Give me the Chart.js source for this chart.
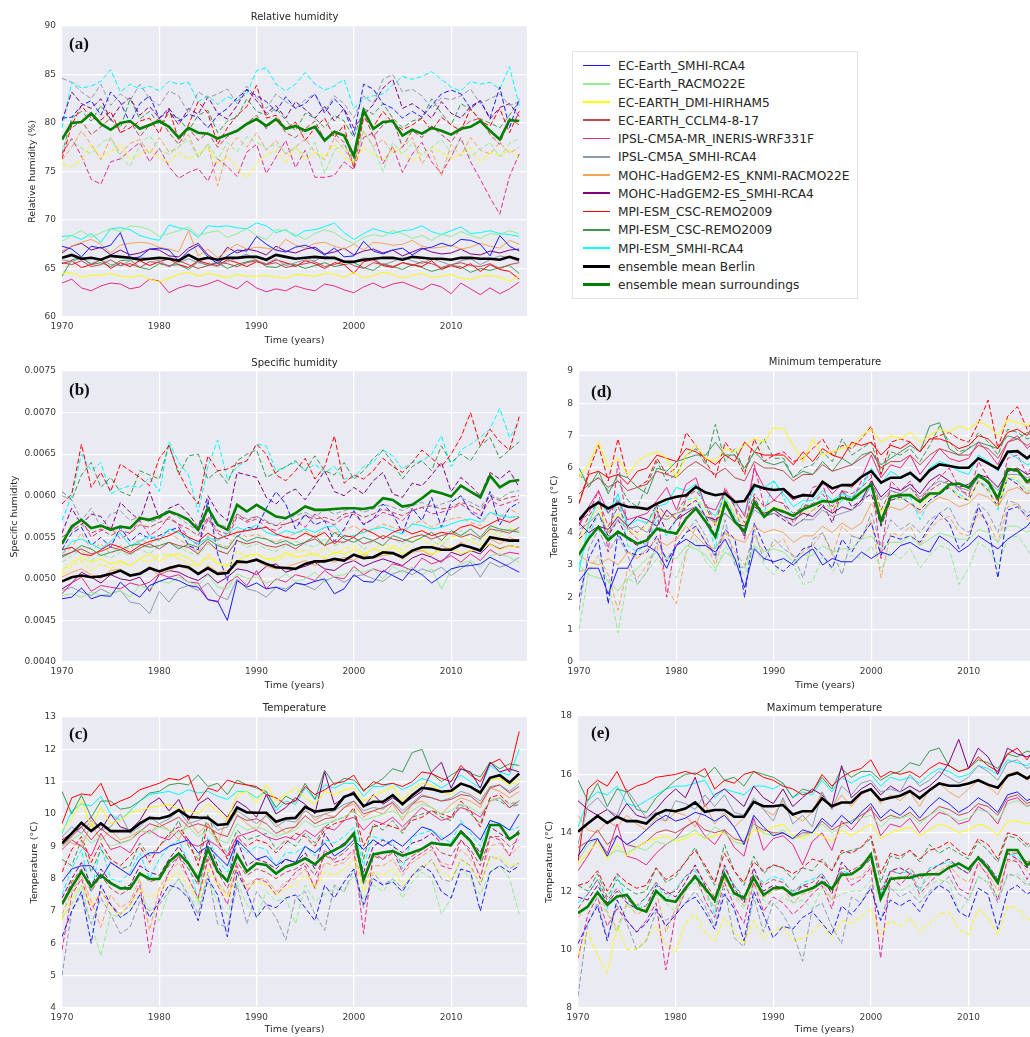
<!DOCTYPE html>
<html>
<head>
<meta charset="utf-8">
<script src="https://cdn.jsdelivr.net/npm/chart.js@4.4.1/dist/chart.umd.min.js"></script>
<style>
  html, body { margin: 0; padding: 0; background: #fff; overflow: hidden; }
  body { width: 1030px; height: 1037px; position: relative; font-family: "DejaVu Sans", sans-serif; }
  canvas { position: absolute; }
  #legend { position: absolute; left: 572px; top: 51px; width: 286px; height: 248px;
            border: 1px solid #e2e2e2; box-sizing: border-box; background: #fff; }
  #legend .row { position: absolute; left: 10px; height: 18px; line-height: 18px;
                 font-size: 12.2px; color: #262626; white-space: nowrap; }
  #legend .row i { display: inline-block; width: 27px; vertical-align: middle;
                   margin-right: 8px; position: relative; top: -1px; }
</style>
</head>
<body>
<canvas id="rh" width="545" height="352" style="left:0;top:0"></canvas>
<canvas id="q" width="545" height="352" style="left:0;top:345px"></canvas>
<canvas id="t" width="545" height="342" style="left:0;top:695px"></canvas>
<canvas id="tn" width="560" height="352" style="left:530px;top:345px"></canvas>
<canvas id="tx" width="560" height="342" style="left:530px;top:695px"></canvas>
<div id="legend"></div>

<script>
const years = [1970,1971,1972,1973,1974,1975,1976,1977,1978,1979,1980,1981,1982,1983,1984,1985,
  1986,1987,1988,1989,1990,1991,1992,1993,1994,1995,1996,1997,1998,1999,2000,2001,2002,2003,
  2004,2005,2006,2007,2008,2009,2010,2011,2012,2013,2014,2015,2016,2017];

const models = ['EC-Earth_SMHI-RCA4', 'EC-Earth_RACMO22E', 'EC-EARTH_DMI-HIRHAM5', 'EC-EARTH_CCLM4-8-17',
  'IPSL-CM5A-MR_INERIS-WRF331F', 'IPSL-CM5A_SMHI-RCA4', 'MOHC-HadGEM2-ES_KNMI-RACMO22E',
  'MOHC-HadGEM2-ES_SMHI-RCA4', 'MPI-ESM_CSC-REMO2009', 'MPI-ESM_CSC-REMO2009', 'MPI-ESM_SMHI-RCA4'];
const modelColors = ['#1a1aff', '#90ee90', '#ffff00', '#bc4b4b', '#e8288a', '#8c9cae', '#f6a35a',
  '#800080', '#ff0000', '#3a9a50', '#00ffff'];

// relative humidity (%), one row per model in the order above
const rhCityMean = [66.1,66.4,66.0,66.1,65.9,66.3,66.2,66.1,65.9,66.0,66.1,66.0,65.8,66.4,65.9,66.1,65.9,66.1,66.1,66.2,66.2,65.9,66.4,66.2,66.0,66.1,66.2,66.1,66.1,65.7,65.7,65.9,66.0,66.1,66.1,65.9,66.2,66.1,66.0,66.0,65.9,66.1,66.1,66.0,66.0,65.9,66.2,65.9];
const rhRuralMean = [78.3,80.0,80.1,81.0,79.9,79.3,80.0,80.2,79.4,79.8,80.2,79.6,78.5,79.5,79.0,78.9,78.4,78.8,79.2,79.9,80.4,79.7,80.4,79.4,79.7,79.2,79.6,78.2,79.1,78.7,76.6,81.3,79.4,80.1,80.2,78.7,79.3,78.9,79.5,79.2,78.8,79.4,79.6,80.2,79.2,78.3,80.3,80.2];
const rhCity = [
  [67.3,67.0,66.2,67.3,67.1,67.4,68.7,66.0,66.2,67.0,67.1,66.9,65.8,66.8,67.4,66.2,65.5,66.3,66.9,66.8,68.3,67.5,66.9,66.7,67.2,67.4,67.0,66.4,67.1,66.2,66.3,67.8,66.8,66.5,66.9,67.1,66.4,67.0,67.2,67.6,67.3,68.0,67.9,67.5,66.3,68.4,67.3,66.8],
  [67.8,68.4,68.9,68.2,68.7,69.1,68.8,69.4,69.3,69.0,68.3,68.6,68.9,69.3,68.4,68.7,68.9,68.2,68.6,69.1,68.4,68.0,69.0,68.9,68.5,68.0,68.6,69.0,68.7,68.0,67.6,68.2,68.5,68.3,68.9,68.6,68.1,68.4,67.9,68.5,68.3,68.8,68.4,68.1,68.6,68.5,68.9,68.6],
  [64.5,64.6,64.1,64.3,64.3,64.5,64.2,64.1,64.3,63.9,63.6,64.0,64.4,64.6,64.2,64.5,64.3,64.0,64.4,64.2,64.2,64.3,64.1,64.0,64.4,64.3,64.2,64.5,64.4,64.1,64.6,64.0,64.3,64.6,64.4,64.0,64.3,64.5,64.1,64.2,64.4,64.0,63.9,64.2,64.3,64.1,63.7,64.2],
  [65.6,65.4,65.8,65.2,65.4,65.9,65.3,65.5,65.1,65.7,65.6,65.2,65.8,65.4,65.0,65.3,65.7,65.5,65.2,65.6,65.8,65.4,65.6,65.1,65.3,65.5,65.7,65.2,65.4,65.8,65.3,65.0,65.6,65.4,65.2,65.6,65.3,65.7,65.5,65.1,65.4,65.6,65.3,65.2,65.5,65.0,65.4,65.6],
  [63.5,63.9,63.0,62.7,63.2,63.5,63.4,62.9,63.1,63.9,63.7,62.5,63.0,63.3,63.1,63.4,63.8,63.3,62.9,63.7,63.0,62.6,62.9,62.7,63.2,62.9,62.7,63.4,63.2,62.8,62.5,63.1,63.5,63.0,63.4,63.6,63.2,62.8,63.4,63.1,62.4,63.5,62.9,62.3,63.0,62.4,62.9,63.6],
  [65.9,65.7,66.1,65.5,65.9,65.4,65.3,65.8,66.2,66.0,65.8,65.2,65.6,66.0,65.6,65.4,65.2,65.7,66.1,66.5,65.8,65.5,66.0,65.3,65.6,65.9,65.8,66.3,66.0,65.6,65.7,66.1,66.0,65.4,65.7,66.2,65.8,65.5,66.0,65.7,65.3,65.8,66.0,65.4,65.9,66.3,66.1,65.7],
  [66.8,67.3,67.7,68.0,67.5,66.6,67.4,67.6,67.7,67.6,67.2,67.0,66.7,68.9,66.3,67.0,66.1,66.9,67.5,67.0,67.2,67.1,66.9,68.0,67.4,67.1,67.6,67.7,67.3,67.0,67.5,66.9,67.7,67.6,67.4,67.5,67.9,67.3,67.1,67.2,67.4,67.0,67.2,67.6,67.3,67.1,67.9,67.5],
  [66.6,67.3,67.6,66.9,67.2,66.4,66.9,66.4,66.6,67.0,66.9,66.3,66.2,67.1,67.6,66.4,65.8,67.2,66.6,67.0,66.8,66.4,67.3,66.8,66.6,67.0,67.2,66.5,66.7,67.1,66.4,66.8,67.0,66.6,66.9,66.3,66.7,67.1,66.7,66.5,66.6,67.0,66.5,66.4,66.8,66.6,66.9,67.0],
  [65.5,65.8,65.1,65.4,65.9,65.0,65.6,65.2,65.8,65.3,65.7,66.0,65.4,65.1,65.8,65.5,65.3,65.9,65.6,65.2,65.7,65.4,65.9,65.6,65.2,65.8,65.5,65.0,65.6,65.4,64.5,65.7,65.9,65.3,65.1,65.6,65.4,65.2,65.8,64.9,65.3,65.0,65.5,64.7,65.4,64.9,64.7,63.9],
  [64.2,65.9,66.1,65.4,65.6,65.2,65.8,65.9,65.1,64.9,65.5,65.3,65.4,64.9,65.7,65.3,65.6,65.0,65.4,65.7,65.9,65.2,65.1,65.5,65.4,65.0,65.3,65.6,65.2,65.4,65.6,65.1,64.8,65.5,65.2,64.9,65.4,65.1,64.7,65.0,65.3,65.2,64.6,65.0,64.8,65.1,65.3,64.5],
  [68.3,68.4,68.0,68.6,67.7,69.1,69.2,69.0,68.4,68.1,67.9,69.5,69.2,69.0,68.2,69.4,69.3,69.4,69.2,69.1,69.7,69.4,68.7,69.0,68.3,68.9,69.0,69.3,69.7,68.7,68.0,68.6,69.1,68.8,68.6,68.9,69.0,69.4,68.8,68.5,68.9,69.3,68.6,68.7,68.9,68.6,68.5,68.3]
];
const rhRural = [
  [80.5,80.6,81.8,82.3,80.8,83.2,82.1,80.0,82.0,82.8,80.5,81.5,80.2,80.9,80.6,79.5,80.8,81.5,82.6,83.4,82.8,82.2,81.2,82.7,81.5,82.0,83.0,81.0,82.5,81.4,78.8,84.0,83.5,82.0,81.5,80.5,81.2,80.6,81.8,83.0,83.4,83.0,81.5,82.3,80.5,83.7,79.5,82.5],
  [77.5,78.2,77.4,76.8,77.9,78.5,76.5,75.5,77.8,78.7,77.2,76.8,77.5,78.3,76.4,77.9,76.2,78.0,77.0,78.6,78.0,77.4,77.8,76.9,77.5,76.5,78.0,74.8,77.2,77.8,76.0,79.2,77.5,75.0,78.0,76.8,77.9,76.7,77.5,78.3,77.0,78.2,76.5,77.3,78.0,76.5,77.9,78.4],
  [75.8,75.5,76.2,77.8,76.5,77.0,77.8,76.2,76.8,77.3,76.4,75.9,77.0,76.2,76.9,77.5,75.8,76.5,75.4,74.3,75.8,76.7,77.1,76.0,77.5,76.2,77.0,76.5,77.8,76.4,75.9,77.5,76.8,76.2,77.3,76.9,76.1,76.7,77.5,77.0,76.3,76.8,77.4,76.0,76.9,76.7,77.2,76.4],
  [78.5,79.5,80.2,78.8,79.6,80.5,79.0,80.2,78.6,79.8,80.5,79.0,77.8,79.5,78.2,79.0,77.5,78.6,79.2,80.0,80.8,79.4,80.5,79.0,78.5,79.4,80.2,78.3,78.9,78.0,75.5,81.0,78.6,79.8,80.4,77.5,79.2,78.5,79.7,78.8,78.0,79.5,80.2,80.5,78.8,77.8,80.5,79.8],
  [76.8,78.4,76.6,74.2,73.7,76.0,76.3,77.2,78.0,76.0,77.4,75.5,74.3,74.9,75.3,74.0,76.3,75.5,74.5,77.0,77.8,74.8,76.5,78.2,75.4,77.2,74.4,74.4,74.6,76.0,75.2,78.5,79.0,75.8,77.6,74.9,76.8,78.0,76.0,74.8,76.5,78.5,76.0,74.2,72.3,70.6,74.5,76.8],
  [84.6,84.2,83.2,82.5,84.0,81.8,83.0,82.3,84.0,82.5,81.8,83.3,82.8,81.0,83.2,82.6,83.0,83.5,82.0,83.8,82.6,81.5,83.0,82.2,81.5,82.4,83.0,81.2,82.8,82.0,80.5,82.8,82.0,84.5,85.0,83.2,83.5,82.8,81.5,82.6,82.4,82.8,83.5,82.0,82.5,83.0,81.8,82.2],
  [76.2,77.5,79.2,77.8,76.2,78.5,76.8,77.9,78.3,76.8,78.5,77.0,77.5,78.8,76.5,77.8,73.5,77.2,78.5,77.5,79.0,77.2,78.2,76.8,77.5,78.4,77.0,76.2,78.5,77.3,75.8,79.2,77.6,78.3,76.9,77.5,78.5,75.8,77.2,74.5,77.8,76.6,78.5,77.2,76.8,78.0,76.9,77.5],
  [80.2,83.2,82.0,81.5,82.5,80.3,81.8,82.6,80.8,81.7,80.5,81.2,79.8,81.5,80.9,82.7,81.0,80.4,81.8,83.5,82.3,81.0,81.8,80.5,82.2,81.4,80.5,81.7,80.2,81.5,79.5,80.8,81.9,83.6,84.5,81.5,82.0,81.3,80.5,82.2,81.0,80.5,81.7,82.3,80.4,81.6,82.0,80.7],
  [76.3,79.8,81.8,80.5,80.3,81.2,79.0,79.5,80.2,80.5,78.9,81.5,78.2,79.8,82.2,81.0,77.8,79.5,80.8,81.7,83.9,80.5,80.8,79.4,80.1,78.2,79.5,80.5,78.5,79.8,75.3,80.5,79.6,81.2,80.0,79.3,79.8,80.5,79.2,80.6,79.8,79.2,81.5,80.2,79.7,81.5,79.0,81.2],
  [76.8,80.5,81.2,80.2,81.8,80.3,79.5,82.5,80.4,81.2,79.8,81.0,80.5,79.2,80.8,81.3,79.0,80.2,80.6,82.5,81.2,80.8,81.5,80.3,79.2,81.0,80.5,79.5,80.8,80.2,78.5,81.5,80.9,82.0,80.5,79.5,80.2,80.5,82.5,81.0,79.8,82.0,81.4,80.4,80.0,79.5,80.8,82.3],
  [79.5,84.2,83.6,83.8,84.3,85.5,83.2,84.0,83.5,83.8,83.3,84.3,84.0,84.2,82.2,82.8,81.9,82.7,82.3,83.0,85.4,85.7,84.0,83.3,84.0,85.2,84.0,83.4,83.8,84.5,81.5,82.5,82.8,83.0,83.9,84.8,84.5,84.8,85.3,84.5,83.7,83.3,84.3,84.0,84.2,83.5,85.8,81.8]
];

// specific humidity, stored in g/kg (axis labels show kg/kg)
const qCityMean = [4.97,5.02,5.04,5.02,5.03,5.06,5.10,5.04,5.06,5.13,5.09,5.13,5.16,5.14,5.06,5.13,5.06,5.07,5.21,5.20,5.23,5.18,5.14,5.13,5.12,5.18,5.21,5.21,5.24,5.22,5.29,5.25,5.26,5.32,5.31,5.26,5.34,5.38,5.38,5.35,5.35,5.41,5.38,5.34,5.50,5.48,5.46,5.46];
const qRuralMean = [5.42,5.63,5.71,5.61,5.64,5.59,5.63,5.61,5.73,5.71,5.75,5.81,5.77,5.71,5.59,5.85,5.65,5.59,5.89,5.81,5.89,5.82,5.75,5.73,5.79,5.87,5.83,5.83,5.84,5.85,5.85,5.84,5.86,5.97,5.95,5.87,5.89,5.97,6.06,6.03,5.99,6.12,6.05,5.98,6.24,6.10,6.17,6.19];
const qCity = [
  [4.76,4.78,4.89,4.76,4.80,4.79,4.96,4.85,4.78,4.92,4.97,5.01,4.98,4.92,4.90,4.75,4.73,4.50,4.98,4.90,4.95,4.88,4.90,4.85,4.95,4.93,4.97,5.00,4.82,4.88,5.05,4.97,4.96,5.10,5.04,4.98,5.12,5.05,4.95,5.03,5.12,5.15,5.16,5.18,5.26,5.20,5.14,5.08],
  [4.80,4.82,4.78,4.84,4.80,4.82,4.86,4.78,4.92,4.88,4.97,4.95,5.02,4.96,4.92,5.05,4.90,4.88,5.06,5.00,5.02,4.95,4.98,5.06,4.97,5.00,5.08,4.96,5.03,5.05,5.10,5.08,5.12,5.00,5.15,5.08,5.14,5.05,5.12,4.88,5.10,5.18,5.22,5.14,5.28,5.30,5.26,5.20],
  [5.10,5.20,5.26,5.20,5.24,5.18,5.22,5.16,5.24,5.30,5.21,5.28,5.30,5.25,5.16,5.26,5.18,5.15,5.22,5.28,5.30,5.24,5.25,5.32,5.26,5.28,5.30,5.25,5.32,5.30,5.35,5.28,5.36,5.33,5.38,5.30,5.35,5.36,5.30,5.34,5.38,5.30,5.34,5.36,5.42,5.35,5.40,5.38],
  [5.28,5.32,5.36,5.30,5.33,5.38,5.35,5.30,5.37,5.42,5.36,5.44,5.40,5.38,5.30,5.45,5.34,5.30,5.46,5.42,5.45,5.40,5.38,5.42,5.36,5.44,5.48,5.40,5.45,5.44,5.50,5.42,5.46,5.52,5.48,5.45,5.50,5.53,5.48,5.52,5.55,5.50,5.54,5.48,5.60,5.58,5.55,5.62],
  [4.82,4.95,5.02,4.85,4.92,4.90,4.88,4.95,4.92,4.96,5.06,5.02,5.05,4.96,4.95,4.75,4.72,4.95,5.03,4.92,5.10,4.88,5.00,4.96,5.05,5.02,4.98,5.10,5.02,5.00,5.15,5.05,5.12,5.08,5.18,5.15,5.10,5.25,5.18,5.22,5.28,5.20,5.30,5.22,5.35,5.28,5.32,5.30],
  [4.86,4.90,4.84,4.80,4.88,4.82,4.86,4.72,4.70,4.58,4.85,4.72,4.88,4.92,4.86,4.95,4.80,4.75,5.00,4.88,4.85,4.78,4.90,4.88,4.95,4.92,4.87,4.98,5.02,4.96,5.03,5.05,5.00,4.97,5.06,5.10,5.05,5.12,5.08,5.14,5.04,5.12,5.20,5.02,5.20,5.14,5.18,5.26],
  [5.02,5.08,5.12,5.05,5.00,5.10,5.12,5.04,5.08,5.12,5.05,5.10,5.15,5.12,5.06,5.16,5.08,5.10,5.18,5.20,5.22,5.15,5.12,5.14,5.18,5.22,5.16,5.24,5.20,5.26,5.22,5.30,5.25,5.28,5.30,5.24,5.32,5.34,5.28,5.40,5.35,5.44,5.38,5.34,5.48,5.42,5.50,5.45],
  [4.88,4.95,5.08,5.02,4.95,5.05,5.00,4.98,5.02,4.85,5.05,5.10,5.08,5.02,4.98,5.06,4.95,5.02,5.12,5.10,5.05,5.15,5.18,5.08,5.12,5.15,5.20,5.12,5.10,5.18,5.22,5.15,5.20,5.24,5.20,5.16,5.25,5.30,5.26,5.20,5.32,5.28,5.34,5.30,5.42,5.36,5.40,5.38],
  [5.35,5.38,5.30,5.28,5.35,5.42,5.38,5.32,5.40,5.45,5.48,5.52,5.58,5.50,5.45,5.55,5.48,5.52,5.56,5.58,5.60,5.62,5.54,5.50,5.48,5.55,5.50,5.56,5.42,5.52,5.50,5.60,5.55,5.48,5.56,5.60,5.54,5.58,5.52,5.56,5.54,5.62,5.65,5.60,5.66,5.72,5.68,5.74],
  [5.26,5.32,5.40,5.36,5.28,5.32,5.35,5.40,5.42,5.38,5.40,5.44,5.36,5.42,5.38,5.48,5.40,5.36,5.52,5.45,5.50,5.48,5.42,5.46,5.40,5.44,5.52,5.40,5.56,5.48,5.44,5.50,5.46,5.40,5.52,5.48,5.44,5.50,5.56,5.46,5.58,5.52,5.60,5.50,5.64,5.60,5.58,5.56],
  [5.30,5.45,5.48,5.42,5.36,5.45,5.55,5.40,5.45,5.52,5.46,5.60,5.55,5.48,5.42,5.50,5.46,5.55,5.62,5.58,5.65,5.56,5.52,5.58,5.55,5.60,5.56,5.62,5.64,5.50,5.52,5.56,5.60,5.62,5.58,5.54,5.66,5.64,5.60,5.62,5.66,5.70,5.72,5.68,5.80,5.76,5.74,5.75]
];
const qRural = [
  [5.35,5.55,5.62,5.40,5.50,5.38,5.62,5.45,5.55,5.48,5.52,5.58,5.62,5.40,5.35,5.95,5.30,4.98,5.50,5.62,5.60,5.85,6.05,5.90,5.60,5.78,5.65,5.70,5.45,5.60,5.82,5.65,5.72,5.90,5.78,5.55,5.85,5.70,5.98,5.62,5.92,6.00,5.80,5.72,6.05,5.65,5.85,5.92],
  [5.20,5.28,5.35,5.22,5.30,5.25,5.32,5.28,5.36,5.30,5.40,5.44,5.38,5.32,5.28,5.42,5.35,5.30,5.46,5.38,5.42,5.36,5.33,5.40,5.45,5.42,5.38,5.48,5.40,5.44,5.50,5.35,5.46,5.52,5.48,5.42,5.50,5.54,5.46,5.40,5.52,5.58,5.50,5.46,5.62,5.55,5.60,5.58],
  [5.05,5.15,5.22,5.10,5.18,5.12,5.20,5.16,5.24,5.20,5.28,5.30,5.24,5.18,5.15,5.30,5.20,5.16,5.34,5.26,5.30,5.24,5.22,5.28,5.32,5.35,5.28,5.38,5.30,5.36,5.40,5.30,5.36,5.42,5.40,5.35,5.45,5.48,5.40,5.44,5.50,5.52,5.45,5.40,5.58,5.50,5.62,5.55],
  [5.50,5.58,5.66,5.55,5.60,5.52,5.58,5.55,5.65,5.62,5.68,5.72,5.66,5.60,5.52,5.75,5.58,5.54,5.78,5.70,5.75,5.68,5.64,5.66,5.70,5.76,5.72,5.74,5.70,5.78,5.80,5.74,5.78,5.84,5.80,5.76,5.82,5.86,5.88,5.84,5.86,5.92,5.88,5.82,6.00,5.94,5.98,6.00],
  [5.45,5.60,5.72,5.50,5.58,5.62,5.48,5.55,5.70,5.52,5.60,5.75,5.65,5.50,5.40,5.72,5.55,5.48,5.75,5.68,5.72,5.62,5.58,5.66,5.70,5.62,5.78,5.70,5.65,5.74,5.78,5.66,5.72,5.80,5.76,5.70,5.82,5.86,5.78,5.80,5.84,5.90,5.82,5.76,5.95,5.88,5.92,5.96],
  [6.00,5.95,5.70,5.85,5.62,5.78,5.82,5.70,5.75,5.68,5.72,5.80,5.74,5.65,5.58,5.70,5.66,5.62,5.78,5.72,5.75,5.70,5.64,5.72,5.76,5.80,5.74,5.84,5.78,5.82,5.86,5.80,5.84,5.90,5.86,5.82,5.88,5.92,5.86,5.90,5.94,5.98,5.92,5.86,6.02,5.96,6.04,6.06],
  [5.30,5.38,5.55,5.35,5.42,5.30,5.40,5.36,5.48,5.42,5.50,5.55,5.48,5.40,5.32,5.52,5.42,5.38,5.58,5.50,5.54,5.48,5.44,5.50,5.55,5.58,5.50,5.62,5.55,5.58,5.64,5.56,5.60,5.66,5.62,5.58,5.66,5.70,5.62,5.68,5.72,5.74,5.68,5.64,5.80,5.74,5.84,5.78],
  [5.55,5.85,5.65,5.78,5.75,5.58,5.92,5.80,5.70,6.05,5.72,5.85,5.90,5.78,5.62,6.00,5.80,5.70,6.28,6.25,6.22,5.98,5.90,6.02,6.08,5.95,6.12,6.30,6.05,6.00,6.10,6.02,6.18,6.28,6.02,5.98,6.15,6.12,6.25,6.40,6.05,6.22,6.12,6.00,6.28,6.20,6.30,6.10],
  [5.90,6.02,6.62,6.10,6.28,6.05,6.38,6.30,6.22,6.12,6.45,6.60,6.28,6.05,5.90,6.48,6.30,6.32,6.38,6.42,6.62,6.50,6.25,6.18,6.30,6.45,6.20,6.35,6.72,6.15,6.25,6.20,6.30,6.45,6.35,6.28,6.40,6.55,6.45,6.35,6.50,6.70,7.00,6.60,6.80,6.65,6.55,6.95],
  [6.05,5.95,6.25,6.40,6.10,6.22,6.05,6.00,6.30,6.25,6.20,6.62,6.25,6.48,6.50,6.20,6.30,6.15,6.42,6.50,6.55,6.22,6.28,6.35,6.42,6.30,6.48,6.30,6.25,6.40,6.20,6.30,6.45,6.55,6.40,6.20,6.35,6.42,6.30,6.60,6.40,6.50,6.42,6.60,6.70,6.45,6.55,6.65],
  [5.70,6.00,6.50,6.30,6.40,6.02,6.08,6.12,6.10,6.22,6.05,6.65,6.40,6.25,5.80,6.35,6.67,6.20,6.35,6.42,6.62,6.60,6.30,6.35,6.40,6.30,6.38,6.28,6.35,6.20,6.22,6.35,6.40,6.55,6.48,6.32,6.40,6.42,6.50,6.72,6.35,6.55,6.62,6.70,6.80,7.05,6.70,6.88]
];

// mean temperature (°C)
const tCityMean = [9.09,9.40,9.73,9.47,9.71,9.47,9.47,9.47,9.71,9.88,9.86,9.94,10.12,9.91,9.89,9.88,9.66,9.69,10.20,10.05,10.04,10.04,9.76,9.86,9.88,10.22,10.07,10.12,10.15,10.53,10.63,10.24,10.38,10.38,10.58,10.30,10.58,10.81,10.77,10.69,10.72,10.94,10.84,10.66,11.12,11.20,10.97,11.25];
const tRuralMean = [7.21,7.75,8.22,7.75,8.11,7.86,7.70,7.70,8.16,7.99,7.99,8.52,8.78,8.47,7.99,8.92,8.22,7.93,8.73,8.22,8.47,8.42,8.16,8.37,8.47,8.63,8.44,8.73,8.88,9.04,9.40,7.96,8.75,8.81,8.85,8.71,8.81,8.92,9.11,9.06,9.04,9.45,9.16,8.63,9.66,9.66,9.22,9.43];
const tCity = [
  [7.9,8.3,8.4,8.4,8.0,8.5,8.3,8.1,8.6,8.8,8.8,9.0,9.1,9.2,8.8,9.0,8.7,8.4,9.2,8.9,8.6,8.7,8.4,8.6,8.5,9.0,8.8,9.1,8.7,8.9,9.2,8.9,9.2,9.0,9.2,9.0,9.3,9.6,9.5,9.2,9.4,9.7,9.5,9.2,9.8,9.7,9.5,10.0],
  [9.0,9.2,9.4,9.1,9.3,9.0,9.1,9.2,9.5,9.4,9.6,9.5,9.4,9.6,9.3,9.5,9.2,9.1,9.7,9.5,9.6,9.5,9.3,9.4,9.5,9.8,9.6,9.7,9.8,9.9,10.1,9.8,9.9,10.0,10.1,9.9,10.1,10.3,10.2,10.0,10.1,10.3,10.2,10.0,10.4,10.5,10.3,10.4],
  [9.5,9.85,10.4,9.6,10.2,9.7,9.8,10.05,10.1,10.2,10.25,10.3,10.15,10.1,10.0,10.3,10.1,9.8,10.6,10.7,10.35,10.9,10.4,10.6,10.8,10.5,10.3,10.7,10.6,10.75,10.8,10.4,10.55,10.7,10.85,10.4,10.75,10.95,10.9,10.7,10.6,10.95,10.85,10.6,11.05,11.1,10.9,11.05],
  [9.0,9.3,9.6,9.2,9.55,9.3,9.1,9.2,9.45,9.7,9.6,9.75,9.9,9.6,9.7,9.6,9.4,9.3,9.95,9.8,9.85,9.7,9.4,9.55,9.6,9.95,9.7,9.85,9.9,10.2,10.4,10.0,10.1,10.2,10.35,10.0,10.3,10.55,10.5,10.4,10.45,10.6,10.55,10.3,10.8,10.9,10.65,10.85],
  [8.9,9.2,9.0,8.7,9.4,8.9,9.0,8.8,9.3,9.5,9.3,9.2,9.5,9.1,9.0,9.2,9.0,8.7,9.3,9.4,9.5,9.3,9.2,9.3,9.2,9.5,9.3,9.6,9.5,9.8,9.9,9.5,9.8,9.7,9.9,9.6,9.9,10.2,10.0,9.8,9.9,10.2,10.1,9.9,10.4,10.5,10.2,10.4],
  [9.3,9.6,9.4,9.8,9.5,9.6,10.0,9.4,9.6,9.9,9.7,9.85,10.1,9.7,9.8,9.9,9.5,9.6,10.1,9.9,9.7,9.95,9.6,9.8,9.75,10.1,9.9,10.0,10.1,10.3,10.4,10.1,10.2,10.15,10.4,10.1,10.35,10.6,10.5,10.4,10.5,10.7,10.6,10.4,10.85,10.9,10.7,10.95],
  [9.3,9.1,9.0,9.7,9.2,9.5,9.2,9.3,9.5,9.4,9.7,9.5,9.2,9.8,9.4,9.7,9.1,9.9,10.0,9.7,9.5,10.0,9.7,9.4,9.6,10.2,9.8,10.0,9.9,10.2,10.3,9.9,10.1,10.0,10.3,9.8,10.3,10.4,10.2,10.0,10.3,10.5,10.4,10.2,10.8,10.7,10.5,10.7],
  [9.2,9.4,9.6,9.9,9.5,10.0,9.6,9.5,9.8,10.3,10.5,10.1,10.45,9.8,10.3,10.5,10.2,9.9,10.4,10.2,9.9,10.6,10.0,10.2,10.5,10.3,10.0,11.3,10.3,10.5,10.7,10.2,10.6,10.3,10.5,10.3,10.5,10.7,11.3,11.6,10.8,11.4,11.3,10.8,11.6,11.3,11.4,11.3],
  [9.7,10.5,10.62,10.58,10.95,10.25,10.4,10.52,10.75,10.85,10.95,11.1,11.05,11.2,10.4,10.8,10.7,11.05,10.95,10.9,10.85,10.6,10.5,10.3,10.4,10.85,10.6,10.75,10.95,11.0,11.2,10.7,11.0,10.9,10.95,10.85,11.0,11.3,11.25,11.1,11.0,11.5,11.2,11.0,11.55,11.7,11.3,12.55],
  [10.7,10.0,10.58,9.9,10.4,10.4,10.15,10.2,10.4,10.65,10.7,10.9,10.95,10.9,11.2,10.85,10.95,10.6,11.05,10.9,10.8,10.7,10.2,10.55,10.4,10.95,10.45,11.35,10.9,11.1,11.05,10.75,10.9,11.1,11.4,11.3,11.9,12.0,11.25,11.0,11.2,11.4,11.25,11.15,11.6,11.4,11.55,11.5],
  [9.4,10.1,10.3,10.25,10.55,10.0,9.8,10.1,10.4,10.6,10.65,10.7,10.6,10.75,10.65,10.7,10.55,10.45,10.7,10.7,10.5,10.7,10.1,10.4,10.3,10.8,10.45,10.9,10.8,10.95,10.95,10.55,10.85,10.85,10.95,10.75,10.9,11.1,11.0,10.8,11.0,11.2,11.0,10.8,11.5,11.3,11.2,12.0]
];
const tRural = [
  [6.2,7.0,7.6,6.0,7.8,7.2,6.8,7.0,7.5,6.8,7.3,7.8,7.7,7.4,6.7,8.0,7.5,6.2,8.2,7.6,6.8,7.2,7.1,7.4,7.5,7.1,6.7,7.8,7.4,7.9,8.3,7.2,8.0,7.8,7.9,7.6,8.1,8.4,8.2,7.6,7.4,8.3,8.2,7.0,8.2,8.4,8.2,8.4],
  [6.8,7.2,7.8,6.6,5.6,6.9,6.8,7.0,7.5,7.1,6.7,7.6,8.0,7.4,7.2,7.9,7.3,6.9,7.9,7.2,6.8,7.6,7.3,7.4,6.6,7.8,7.3,7.5,7.7,7.6,8.1,7.4,7.8,7.6,8.0,7.4,7.9,8.2,8.0,6.9,7.4,8.3,8.0,7.5,8.2,8.4,8.0,6.9],
  [6.7,7.4,7.8,7.2,7.6,7.1,6.9,7.2,7.7,7.4,7.6,8.0,8.2,7.8,7.3,8.3,7.8,7.4,8.1,7.7,7.9,7.8,7.5,7.7,7.8,8.1,7.7,8.2,8.1,8.3,8.6,7.6,8.2,8.1,8.3,7.8,8.1,8.4,8.5,8.2,8.0,8.6,8.3,7.9,8.6,8.7,8.4,8.5],
  [7.2,7.9,8.3,7.6,8.1,7.7,7.5,7.7,8.2,7.9,8.0,8.4,8.7,8.3,7.8,8.7,8.2,7.7,8.5,8.1,8.3,8.2,8.0,8.2,8.3,8.5,8.1,8.7,8.6,8.8,9.1,8.0,8.7,8.6,8.8,8.5,8.7,8.9,9.1,8.8,8.7,9.2,8.9,8.4,9.3,9.3,9.0,9.2],
  [5.8,7.5,8.0,7.0,7.6,7.2,6.9,7.2,7.8,5.7,7.4,8.2,8.7,8.0,7.4,8.6,7.8,7.2,8.4,7.6,8.0,7.9,7.5,7.8,8.2,8.4,7.7,8.9,8.5,8.6,8.9,6.3,8.8,8.6,8.9,8.2,8.6,8.8,9.0,8.4,8.3,9.2,8.8,8.0,9.3,9.2,8.7,9.4],
  [5.0,7.0,7.5,6.6,7.4,6.9,6.3,6.5,7.3,7.0,7.2,7.6,8.0,7.5,6.9,8.2,6.6,6.5,7.8,6.6,7.6,7.2,6.8,6.1,7.4,7.6,6.9,6.4,7.8,7.6,8.3,7.1,8.2,7.8,8.0,7.7,8.1,8.3,8.6,8.0,7.9,8.6,8.4,7.8,8.7,8.6,8.3,8.5],
  [6.9,7.6,8.1,7.3,6.5,7.5,7.1,7.3,8.0,6.4,7.7,8.2,8.5,8.0,7.4,8.6,7.9,7.5,8.3,7.8,8.0,8.0,7.6,7.9,8.0,8.3,7.7,8.5,8.4,8.5,8.8,7.8,8.4,8.4,8.6,8.1,8.5,8.7,8.9,8.5,8.4,8.9,8.6,8.1,9.0,9.1,8.7,9.0],
  [7.4,8.0,8.5,7.8,8.3,7.9,7.7,7.8,8.4,8.2,8.1,8.6,9.0,8.5,7.9,9.2,8.4,7.9,9.2,8.4,8.6,8.5,8.3,8.6,8.5,8.8,8.3,9.4,8.9,9.1,9.3,8.2,9.0,9.2,9.0,8.8,9.1,9.2,9.4,9.1,9.0,9.5,9.2,8.8,9.6,9.4,9.2,9.5],
  [8.2,8.9,9.3,8.5,9.1,8.6,8.4,8.7,9.0,8.5,9.0,9.4,9.6,9.2,8.4,9.7,9.2,8.6,9.3,9.0,9.2,9.1,8.8,9.1,9.4,9.3,9.0,9.5,9.7,9.8,10.2,9.0,9.6,9.7,9.6,9.5,9.8,9.9,10.1,10.0,9.9,10.4,10.1,9.6,10.5,10.6,10.3,10.4],
  [8.6,8.4,9.2,8.2,8.9,8.5,8.3,8.4,9.1,8.7,9.0,9.3,9.8,9.0,8.6,10.0,9.1,8.8,9.5,9.2,9.3,9.4,8.9,9.2,9.0,9.4,9.1,9.6,9.8,9.9,10.1,8.6,9.7,9.5,9.8,9.4,9.9,10.0,10.1,9.9,9.8,10.3,10.0,9.7,10.5,10.4,10.2,10.3],
  [7.5,8.3,8.9,7.6,9.0,8.0,7.9,8.2,8.8,8.0,8.6,9.0,9.2,8.5,7.3,9.3,8.6,8.2,9.1,8.8,9.0,8.9,8.4,8.8,8.8,9.0,8.7,9.2,9.1,9.3,9.6,8.4,9.3,9.2,9.1,8.3,9.3,9.4,9.5,9.3,9.1,9.8,9.4,9.0,9.8,9.7,9.5,9.6]
];

// minimum temperature (°C)
const tnCityMean = [4.39,4.75,4.93,4.75,4.90,4.80,4.78,4.73,4.90,5.03,5.11,5.16,5.42,5.24,5.16,5.21,4.95,4.98,5.47,5.37,5.32,5.35,5.08,5.16,5.14,5.57,5.37,5.47,5.47,5.73,5.90,5.55,5.70,5.70,5.85,5.59,5.93,6.11,6.06,6.01,6.01,6.30,6.14,5.97,6.50,6.52,6.30,6.55];
const tnRuralMean = [3.32,3.82,4.18,3.77,4.03,3.84,3.66,3.77,4.13,4.03,3.97,4.44,4.75,4.34,3.87,4.92,4.34,4.03,4.95,4.49,4.75,4.65,4.52,4.72,4.85,4.98,4.95,5.08,5.01,5.26,5.49,4.34,5.11,5.16,5.16,4.95,5.21,5.21,5.49,5.52,5.39,5.78,5.57,5.06,5.97,5.93,5.57,5.80];
const tnCity = [
  [2.5,2.9,2.9,2.1,2.9,2.9,3.5,3.6,3.4,2.9,3.6,3.8,3.6,3.6,3.4,3.8,3.2,2.3,3.5,3.2,3.1,3.2,3.0,3.3,3.5,3.0,3.2,3.1,3.1,3.4,3.2,3.4,3.3,3.6,3.7,3.5,3.4,3.9,3.7,3.4,3.6,3.9,3.7,3.5,3.8,4.0,4.2,4.6],
  [3.0,2.7,2.6,2.5,2.2,2.6,2.9,3.2,3.4,3.2,3.2,3.6,3.5,3.3,2.9,3.4,3.2,2.9,3.6,3.4,3.5,3.4,3.1,3.3,3.3,3.6,3.4,3.5,3.5,3.8,3.9,3.5,3.7,3.7,3.9,3.6,3.8,4.0,3.9,3.8,3.8,4.1,4.0,3.7,4.2,4.2,4.0,4.2],
  [5.7,6.1,6.8,6.0,6.3,5.8,6.2,6.4,6.5,6.3,5.7,6.4,6.7,6.3,6.2,6.6,6.5,6.7,6.9,6.8,7.25,7.2,6.7,6.2,6.9,6.4,6.5,6.6,6.7,7.0,7.2,6.8,7.0,6.9,7.1,6.8,7.0,7.2,7.1,7.3,7.2,7.45,7.3,7.0,7.5,7.4,7.3,7.6],
  [5.2,5.5,5.7,5.4,5.6,5.3,5.4,5.5,5.9,5.8,5.7,6.0,6.2,6.0,5.8,6.0,5.7,5.6,6.2,6.0,6.0,5.9,5.6,5.8,5.8,6.1,5.9,6.0,6.1,6.3,6.5,6.0,6.2,6.2,6.4,6.1,6.4,6.6,6.5,6.4,6.4,6.7,6.6,6.3,6.8,6.9,6.7,6.9],
  [4.2,4.8,5.3,4.6,5.0,4.4,4.5,4.6,5.0,5.4,4.7,5.5,5.7,4.8,4.7,5.3,5.0,4.5,6.0,5.4,5.0,5.3,5.0,5.2,5.1,5.6,5.2,5.5,5.4,5.7,6.4,5.7,6.1,6.0,6.4,5.8,6.2,6.6,6.3,6.2,6.3,6.8,6.5,6.1,6.8,7.0,6.6,6.9],
  [4.1,4.3,4.6,4.0,4.4,4.1,4.2,4.0,4.5,4.4,4.6,4.7,4.8,4.5,4.3,4.6,4.3,4.1,4.7,4.5,4.6,4.5,4.2,4.4,4.4,4.7,4.5,4.6,4.7,4.9,5.5,5.0,5.3,5.2,5.4,5.1,5.4,5.6,5.5,5.4,5.3,5.7,5.6,5.3,5.8,5.8,5.7,5.8],
  [3.3,3.1,3.0,3.2,3.0,3.4,3.2,3.5,3.8,3.6,3.8,4.2,3.9,3.6,3.5,4.0,3.8,3.7,4.2,4.0,4.1,4.0,3.7,3.9,3.9,4.2,4.0,4.3,4.1,4.3,4.9,4.5,4.8,4.7,4.9,4.6,4.9,5.1,5.0,4.8,4.9,5.2,5.1,4.8,5.3,5.4,5.2,5.3],
  [4.3,4.0,4.2,4.1,4.5,4.2,4.5,4.4,4.2,4.7,4.4,4.6,4.8,4.5,4.4,4.6,4.3,4.2,4.8,4.6,4.7,4.5,4.4,4.6,4.5,4.8,4.6,4.8,4.7,5.0,5.6,5.1,5.4,5.3,5.5,5.2,5.6,5.8,5.6,5.4,5.5,5.8,5.7,5.4,5.9,6.0,5.8,5.9],
  [4.9,5.8,5.9,5.7,5.8,5.5,5.9,6.0,6.4,6.3,6.2,6.6,6.5,6.3,6.1,6.4,6.2,6.8,6.5,6.4,6.4,6.4,6.1,6.5,6.2,6.6,6.4,6.3,6.8,6.7,6.8,6.4,6.7,6.6,6.8,6.5,6.9,6.9,6.8,6.6,6.7,7.0,6.9,6.6,7.1,7.2,7.0,7.5],
  [6.0,5.4,5.9,5.2,5.8,5.7,5.4,5.2,6.0,5.9,6.2,6.3,6.4,6.4,6.8,6.4,6.4,6.0,6.5,6.2,6.1,6.2,5.7,5.9,5.8,6.2,5.9,6.3,6.1,6.4,6.5,6.1,6.3,6.5,6.7,6.5,7.3,7.4,6.6,6.4,6.6,6.8,6.7,6.6,7.0,6.9,7.1,6.9],
  [2.8,4.3,5.0,4.6,5.2,4.2,4.4,4.3,4.8,4.9,5.4,5.3,5.5,4.8,4.5,5.2,4.9,4.6,5.4,5.4,5.6,5.2,4.8,5.0,5.0,5.3,5.0,5.2,5.1,5.4,6.0,5.5,5.9,5.7,5.8,5.6,6.0,6.2,6.1,5.9,5.8,6.4,6.2,5.9,6.5,6.3,6.1,6.2]
];
const tnRural = [
  [2.0,3.2,3.8,1.8,4.0,3.4,3.3,3.4,3.9,3.1,3.6,4.0,4.2,3.7,3.3,4.1,3.8,2.0,4.3,3.6,3.0,2.8,3.1,3.5,3.6,3.3,2.9,3.8,3.4,3.9,4.3,3.3,3.9,3.8,3.9,3.7,4.2,4.6,4.3,3.5,3.8,4.8,4.2,2.6,4.7,4.8,4.5,4.7],
  [1.0,2.8,3.2,2.5,0.9,2.6,2.4,2.8,3.2,2.9,2.6,3.4,3.8,3.1,2.8,3.6,3.1,2.7,3.6,3.0,2.7,3.2,3.0,2.4,2.5,3.3,2.8,3.1,3.3,3.2,3.6,2.9,3.4,3.2,3.5,2.9,3.3,3.6,3.5,2.4,2.9,3.7,3.5,3.0,3.8,3.9,3.5,3.0],
  [3.7,4.3,4.8,4.0,4.6,4.1,3.9,4.2,4.7,4.4,4.5,4.9,5.1,4.7,4.2,5.1,4.6,4.2,5.0,4.6,4.8,4.7,4.4,4.6,4.7,5.0,4.6,5.1,5.0,5.2,5.5,4.6,5.1,5.0,5.2,4.8,5.1,5.3,5.4,5.1,5.0,5.6,5.3,4.8,5.7,5.7,5.3,5.5],
  [3.9,4.5,5.0,4.2,4.8,4.2,4.0,4.3,4.9,4.5,4.6,5.1,5.3,4.9,4.3,5.3,4.8,4.3,5.2,4.8,5.0,4.9,4.6,4.8,4.9,5.2,4.8,5.3,5.2,5.4,5.7,4.7,5.3,5.2,5.4,5.0,5.3,5.5,5.6,5.3,5.2,5.8,5.5,5.0,5.9,5.9,5.5,5.7],
  [4.3,4.6,5.3,3.4,6.2,4.1,3.8,3.6,4.9,2.0,3.9,5.1,5.5,4.8,4.2,5.4,4.8,3.8,6.1,4.8,5.0,4.9,4.3,4.7,5.4,5.5,4.6,5.3,5.0,5.6,5.8,3.2,5.6,5.3,5.6,5.0,5.4,5.7,6.0,5.4,5.1,6.2,5.7,4.9,6.3,6.4,5.8,6.3],
  [1.6,3.5,4.1,3.4,3.9,3.3,2.4,2.8,3.7,3.2,3.6,4.0,4.4,3.9,3.2,4.4,3.0,2.9,4.1,3.1,3.8,3.5,3.3,2.6,3.8,4.0,3.4,2.7,3.9,3.8,4.6,3.6,4.4,4.1,4.3,4.0,4.4,4.6,4.8,4.2,4.0,4.9,4.6,4.0,5.0,4.9,4.6,4.8],
  [2.8,2.9,3.3,2.7,1.6,2.9,2.6,3.0,3.6,2.3,1.8,3.4,4.2,3.7,3.0,4.0,3.4,3.0,3.9,3.4,3.6,3.8,3.2,3.4,3.6,4.0,3.3,4.2,3.9,3.8,4.4,2.6,4.0,3.9,4.2,3.6,4.1,4.4,4.5,4.0,3.9,4.6,4.3,3.7,4.8,4.9,4.4,4.7],
  [3.8,4.1,4.6,3.9,4.4,3.8,3.6,3.8,4.7,4.0,4.4,4.8,5.0,4.5,3.9,5.0,4.4,3.9,5.1,4.5,4.6,4.4,4.2,4.4,4.7,4.9,4.3,5.3,4.8,5.0,5.2,4.2,5.0,5.1,4.9,4.7,5.0,5.2,5.4,5.1,5.0,5.6,5.3,4.8,5.7,5.5,5.2,5.5],
  [4.9,5.9,6.7,5.6,6.9,5.7,5.4,5.6,6.3,5.8,6.0,7.1,6.7,6.2,5.7,6.8,6.4,5.8,6.9,6.2,6.4,6.5,6.2,6.3,6.6,6.9,6.4,6.7,6.6,6.9,7.3,5.8,6.8,6.9,6.8,6.5,6.9,7.0,7.1,6.9,6.8,7.4,8.1,6.6,7.6,7.9,7.2,7.6],
  [5.8,5.5,5.7,5.3,5.6,5.0,4.8,5.5,6.2,5.6,5.8,6.4,6.6,6.1,7.35,6.2,6.6,5.9,6.5,6.9,6.3,6.3,5.7,6.0,6.1,6.5,6.2,6.9,6.4,6.6,6.8,5.8,6.5,6.4,6.6,6.2,6.7,7.3,6.8,6.5,6.6,7.1,6.8,6.4,7.2,7.1,6.9,7.0],
  [3.0,3.9,4.6,3.8,5.2,3.6,3.4,3.7,4.4,3.9,4.4,5.0,5.1,4.5,3.5,5.1,4.5,3.9,4.9,4.6,5.6,5.1,4.4,4.9,4.8,5.1,4.6,5.0,5.0,5.1,5.4,4.2,5.1,5.0,5.1,4.4,5.0,5.2,5.4,5.2,5.0,5.6,5.4,4.7,5.7,5.6,5.3,5.4]
];

// maximum temperature (°C)
const txCityMean = [14.04,14.32,14.58,14.34,14.55,14.40,14.40,14.32,14.63,14.78,14.74,14.83,15.04,14.72,14.78,14.78,14.55,14.55,15.06,14.91,14.91,14.95,14.63,14.74,14.74,15.18,14.91,15.04,15.04,15.37,15.49,15.12,15.20,15.27,15.43,15.18,15.46,15.69,15.61,15.61,15.69,15.80,15.65,15.54,15.95,16.05,15.86,16.10];
const txRuralMean = [11.25,11.47,11.96,11.53,11.82,11.87,11.42,11.30,12.01,11.70,11.64,12.10,12.50,12.10,11.70,12.58,11.93,11.76,12.46,11.87,12.10,12.12,11.87,11.99,12.10,12.31,12.08,12.56,12.58,12.81,13.26,11.74,12.42,12.46,12.46,12.56,12.58,12.58,12.81,12.95,12.76,13.15,12.78,12.29,13.41,13.41,12.88,13.20];
const txCity = [
  [13.2,13.7,13.8,13.2,13.9,13.6,13.8,14.1,14.4,14.6,14.4,14.5,14.7,14.6,14.4,14.6,14.2,13.6,14.6,14.2,13.9,14.0,13.8,14.1,14.0,14.5,14.2,14.6,14.3,14.7,15.0,14.5,14.8,14.6,14.9,14.5,14.9,15.2,15.0,14.7,14.9,15.2,15.0,14.7,15.3,15.4,15.1,15.3],
  [13.0,13.6,13.8,13.2,13.4,13.3,13.5,13.4,13.7,13.6,13.8,13.9,14.1,13.8,14.2,14.0,13.7,13.6,14.3,14.0,13.9,14.1,13.8,13.9,14.0,14.3,14.0,14.2,14.4,14.5,14.6,14.2,14.5,14.5,14.6,14.3,14.6,14.8,14.6,14.4,14.5,14.8,14.7,14.4,15.0,15.1,14.9,15.0],
  [12.9,13.3,13.7,13.1,13.6,13.2,13.5,13.7,13.8,13.9,13.7,13.8,14.0,13.8,13.9,14.0,13.7,13.6,14.1,14.0,14.2,14.3,13.9,13.8,14.0,13.9,13.7,14.1,13.9,14.1,14.3,13.8,14.0,14.1,14.2,13.9,14.1,14.3,14.2,14.0,14.1,14.3,14.2,13.9,14.4,14.4,14.3,14.4],
  [13.5,13.7,14.1,13.6,13.9,13.6,13.5,13.7,14.0,14.1,14.0,14.2,14.4,14.1,14.0,14.1,13.8,13.7,14.3,14.1,14.0,14.0,13.8,14.0,14.0,14.4,14.1,14.3,14.4,14.6,14.8,14.4,14.6,14.5,14.7,14.4,14.6,14.9,14.8,14.6,14.7,15.0,14.9,14.6,15.2,15.3,15.0,15.2],
  [12.7,13.2,13.8,13.3,14.3,13.2,13.1,12.9,13.3,13.6,13.8,14.2,14.4,13.9,13.6,14.1,13.5,13.2,14.5,13.4,13.8,13.9,13.6,12.9,13.7,14.0,13.4,14.4,14.1,14.5,14.9,13.9,14.3,14.2,14.5,14.0,14.4,14.7,14.6,14.3,14.4,14.9,14.7,14.3,15.1,15.2,14.9,15.1],
  [13.6,14.9,15.2,14.8,14.6,15.5,15.0,14.5,14.7,14.4,15.1,15.0,14.8,15.3,14.9,15.3,14.7,14.6,15.2,14.8,14.4,15.2,14.3,14.6,14.2,15.4,14.8,15.6,15.3,15.7,15.8,15.4,15.5,15.4,16.0,15.6,15.8,16.1,15.9,15.7,15.9,16.3,16.1,15.8,16.4,16.5,16.2,16.4],
  [14.6,14.1,14.0,14.4,14.2,14.6,14.3,14.1,14.5,14.4,14.7,14.6,14.2,15.0,14.3,14.7,14.2,14.5,15.1,14.8,14.6,15.1,14.6,14.4,14.7,15.4,14.8,15.3,14.9,15.3,15.5,15.0,15.3,15.1,15.4,14.9,15.5,15.7,15.4,15.2,15.5,15.8,15.6,15.3,16.0,16.1,15.8,16.0],
  [15.1,14.8,14.6,14.8,14.5,15.0,14.6,14.5,14.8,15.2,15.5,15.2,15.9,14.9,15.3,15.5,15.2,14.9,15.6,15.2,15.0,15.5,14.9,15.2,15.5,15.3,14.9,16.3,15.2,15.5,15.7,15.3,15.6,15.4,15.6,15.4,15.6,15.9,16.4,17.2,16.2,16.9,16.6,16.0,16.9,16.7,16.6,16.8],
  [13.0,15.5,15.8,15.6,16.1,15.4,15.6,15.7,15.9,15.95,16.0,16.1,16.0,16.2,15.5,15.8,15.7,16.0,16.1,15.9,15.8,15.6,15.5,15.3,15.4,16.0,15.6,15.9,16.1,16.2,16.5,15.9,16.1,16.0,16.1,15.9,16.2,16.4,16.3,16.1,16.2,16.6,16.3,16.1,16.7,16.9,16.5,17.0],
  [15.8,15.1,15.7,14.9,15.5,15.4,14.8,14.7,15.2,15.5,15.8,16.0,16.05,15.9,16.25,15.8,15.9,15.6,16.1,16.0,15.9,15.7,15.2,15.5,15.4,15.9,15.5,16.2,15.9,16.1,16.1,15.8,16.0,16.1,16.4,16.3,16.8,16.9,16.3,16.1,16.2,16.5,16.4,16.2,16.7,16.6,16.8,16.7],
  [14.2,15.1,15.4,15.3,15.6,15.0,14.9,15.1,15.3,15.5,15.6,15.6,15.7,15.8,15.2,15.5,15.4,15.3,15.6,15.6,15.5,15.7,15.2,15.4,15.3,15.8,15.4,15.9,15.7,15.9,16.0,15.6,15.9,15.8,15.9,15.7,16.0,16.2,16.1,15.9,16.0,16.3,16.2,16.0,16.5,16.4,16.3,16.6]
];
const txRural = [
  [10.2,10.9,11.5,10.3,11.7,11.0,10.6,10.9,11.4,10.8,11.2,11.6,11.8,11.3,10.7,11.9,11.4,10.3,12.0,11.2,10.4,10.8,10.7,11.1,11.3,10.9,10.5,11.5,11.2,11.6,12.1,11.0,11.7,11.5,11.7,11.3,11.9,12.2,12.0,11.3,11.1,12.1,11.9,10.7,12.0,12.2,11.9,12.1],
  [11.3,11.4,11.8,11.2,10.6,11.5,11.4,11.5,11.9,11.6,11.3,12.0,12.3,11.8,11.5,12.2,11.8,11.4,12.2,11.7,11.5,11.8,11.6,11.7,11.4,12.1,11.7,11.9,12.0,12.0,12.4,11.7,12.1,12.0,12.2,11.8,12.2,12.4,12.3,11.3,11.7,12.5,12.3,11.8,12.5,12.6,12.3,11.9],
  [9.8,10.6,9.8,9.2,10.8,10.0,10.0,10.4,10.8,10.2,9.9,10.9,11.2,10.6,10.3,11.1,10.6,10.2,11.0,10.4,10.6,10.8,10.3,10.4,10.6,10.9,10.4,11.0,10.9,11.1,11.4,10.5,11.0,10.8,11.1,10.6,10.9,11.2,11.3,10.7,10.5,11.4,11.1,10.5,11.5,11.4,11.0,11.2],
  [11.4,11.9,12.4,11.7,12.1,11.7,11.5,11.8,12.3,11.9,12.0,12.5,12.8,12.3,11.8,12.8,12.2,11.8,12.6,12.2,12.4,12.3,12.0,12.2,12.3,12.6,12.1,12.8,12.7,12.9,13.2,12.0,12.7,12.6,12.8,12.4,12.7,12.9,13.1,12.8,12.6,13.2,12.9,12.4,13.3,13.3,13.0,13.2],
  [9.7,11.2,11.8,10.8,11.4,11.0,10.6,11.0,11.6,9.3,11.2,12.0,12.6,11.7,11.1,12.3,11.5,10.9,12.3,11.3,11.8,11.6,11.2,11.5,11.9,12.2,11.4,12.7,12.2,12.4,12.8,9.7,12.5,12.2,12.6,11.9,12.3,12.6,12.8,12.1,11.9,13.0,12.5,11.7,13.1,13.0,12.4,13.1],
  [8.4,10.9,11.6,10.4,11.5,10.9,10.0,10.3,11.3,11.0,11.2,11.6,12.0,11.5,10.8,12.1,10.4,10.1,11.8,10.6,11.6,11.2,10.6,9.6,11.4,11.6,10.8,10.2,11.8,11.6,12.2,11.0,12.1,11.8,12.0,11.6,12.0,12.2,12.5,11.9,11.7,12.5,12.3,11.6,12.6,12.5,12.2,12.4],
  [11.1,11.5,12.0,11.3,10.7,11.6,11.2,11.4,12.0,10.6,11.4,12.1,12.5,12.0,11.4,12.4,11.9,11.5,12.3,11.8,12.0,12.1,11.6,11.9,12.0,12.3,11.7,12.6,12.4,12.5,12.9,11.8,12.5,12.4,12.6,12.1,12.5,12.7,12.9,12.5,12.3,12.9,12.6,12.0,13.0,13.1,12.7,13.0],
  [11.8,11.7,12.2,11.6,12.0,11.6,11.4,11.5,12.2,12.0,11.8,12.3,12.9,12.2,11.6,12.9,12.1,11.6,12.8,12.0,12.2,12.1,11.8,12.2,12.1,12.5,11.9,13.0,12.6,12.8,13.1,11.8,12.7,12.8,12.6,12.5,12.7,12.9,13.1,12.8,12.6,13.2,12.9,12.4,13.3,13.1,12.8,13.1],
  [12.2,12.3,12.7,12.0,12.6,12.3,12.1,12.2,12.8,12.4,12.6,13.0,13.4,12.9,12.3,13.3,12.7,12.3,13.0,12.7,12.9,12.8,12.6,12.8,13.1,13.0,12.7,13.4,13.3,13.5,13.9,12.6,13.3,13.2,13.4,13.1,13.4,13.5,13.7,13.4,13.2,13.8,13.6,13.1,14.0,13.9,13.6,13.8],
  [12.2,12.0,12.6,11.8,12.4,12.1,11.9,12.0,12.8,12.3,12.5,13.0,13.5,12.8,12.2,13.6,12.7,12.2,13.2,12.6,12.9,12.8,12.4,12.8,12.7,13.1,12.7,13.3,13.4,13.5,13.8,12.3,13.2,13.1,13.4,13.0,13.6,13.3,13.5,13.3,13.1,13.7,13.4,13.0,13.9,13.8,13.5,13.7],
  [11.6,11.9,12.4,11.4,12.6,11.6,11.4,11.8,12.3,11.7,12.1,12.5,12.7,12.1,11.2,12.8,12.2,11.7,12.6,12.3,12.5,12.4,11.9,12.3,12.4,12.6,12.1,12.7,12.6,12.8,13.2,11.9,12.7,12.6,12.7,12.0,12.8,12.9,13.0,12.8,12.6,13.2,12.9,12.4,13.3,13.2,12.9,13.1]
];

const INK = '#262626';

function series(values) {
  return years.map((yr, i) => ({ x: yr, y: values[i] }));
}

function buildDatasets(city, rural, cityMean, ruralMean) {
  const sets = [
    { data: series(cityMean), borderColor: '#000', borderWidth: 2.6, order: 0 },
    { data: series(ruralMean), borderColor: '#008000', borderWidth: 2.6, order: 0 }
  ];
  city.forEach((v, i) => sets.push({ data: series(v), borderColor: modelColors[i], borderWidth: 1, order: 1 }));
  rural.forEach((v, i) => sets.push({ data: series(v), borderColor: modelColors[i], borderWidth: 1,
    borderDash: [5, 2.5], order: 1 }));
  return sets;
}

// grey plot face behind the white grid
const backdrop = {
  id: 'backdrop',
  beforeDraw(chart) {
    const { ctx, chartArea: a } = chart;
    ctx.save();
    ctx.fillStyle = '#eaeaf2';
    ctx.fillRect(a.left, a.top, a.right - a.left, a.bottom - a.top);
    ctx.restore();
  }
};

// panel title, axis titles and the (a)..(e) tag
const captions = {
  id: 'captions',
  afterDraw(chart, args, o) {
    const { ctx, chartArea: a } = chart;
    const mid = (a.left + a.right) / 2;
    ctx.save();
    ctx.fillStyle = INK;
    ctx.textAlign = 'center';
    ctx.textBaseline = 'middle';
    ctx.font = '10px "DejaVu Sans"';
    ctx.fillText(o.title, mid, o.titleY);
    ctx.font = '9.5px "DejaVu Sans"';
    ctx.fillText('Time (years)', mid, o.xLabelY);
    ctx.translate(o.yLabelX, (a.top + a.bottom) / 2);
    ctx.rotate(-Math.PI / 2);
    ctx.fillText(o.yLabel, 0, 0);
    ctx.restore();

    ctx.save();
    ctx.fillStyle = '#111';
    ctx.font = 'bold 17px "Liberation Serif"';
    ctx.textAlign = 'left';
    ctx.textBaseline = 'alphabetic';
    ctx.fillText(o.letter, a.left + o.letterDx, a.top + o.letterDy);
    ctx.restore();
  }
};

function makePanel(id, p) {
  const canvas = document.getElementById(id);
  const tickFont = { family: 'DejaVu Sans', size: 9 };
  const grid = { color: '#ffffff', lineWidth: 1.2, drawTicks: false };
  new Chart(canvas, {
    type: 'line',
    data: { datasets: buildDatasets(p.city, p.rural, p.cityMean, p.ruralMean) },
    options: {
      responsive: false,
      animation: false,
      devicePixelRatio: 1,
      layout: { padding: { top: p.top, right: canvas.width - p.right, left: 0, bottom: 0 } },
      elements: { point: { radius: 0 }, line: { tension: 0, borderCapStyle: 'butt' } },
      plugins: {
        legend: { display: false },
        title: { display: false },
        tooltip: { enabled: false },
        captions: p.captions
      },
      scales: {
        x: {
          type: 'linear', min: 1970, max: p.xMax,
          grid, border: { display: false },
          ticks: { stepSize: 10, padding: 4, font: tickFont, color: '#3a3a3a', maxRotation: 0,
                   callback: v => String(v) },
          afterBuildTicks: s => { s.ticks = s.ticks.filter(t => t.value % 10 === 0); },
          afterFit: s => { s.height = canvas.height - p.bottom; }
        },
        y: {
          min: p.yMin, max: p.yMax,
          grid, border: { display: false },
          ticks: { stepSize: p.yStep, padding: 6, font: tickFont, color: '#3a3a3a',
                   callback: p.yFormat || (v => String(v)) },
          afterFit: s => { s.width = p.left; }
        }
      }
    },
    plugins: [backdrop, captions]
  });
}

makePanel('rh', {
  city: rhCity, rural: rhRural, cityMean: rhCityMean, ruralMean: rhRuralMean,
  left: 62, top: 26, right: 527, bottom: 317, xMax: 2017.8,
  yMin: 60, yMax: 90, yStep: 5,
  captions: { title: 'Relative humidity', titleY: 17, xLabelY: 341, yLabel: 'Relative humidity (%)',
              yLabelX: 33, letter: '(a)', letterDx: 7, letterDy: 23 }
});

makePanel('q', {
  city: qCity, rural: qRural, cityMean: qCityMean, ruralMean: qRuralMean,
  left: 62, top: 26, right: 527, bottom: 317, xMax: 2017.8,
  yMin: 4, yMax: 7.5, yStep: 0.5, yFormat: v => (v / 1000).toFixed(4),
  captions: { title: 'Specific humidity', titleY: 18, xLabelY: 341, yLabel: 'Specific humidity',
              yLabelX: 15, letter: '(b)', letterDx: 7, letterDy: 24 }
});

makePanel('t', {
  city: tCity, rural: tRural, cityMean: tCityMean, ruralMean: tRuralMean,
  left: 62, top: 22, right: 527, bottom: 313, xMax: 2017.8,
  yMin: 4, yMax: 13, yStep: 1,
  captions: { title: 'Temperature', titleY: 13, xLabelY: 335, yLabel: 'Temperature (°C)',
              yLabelX: 35, letter: '(c)', letterDx: 7, letterDy: 22 }
});

makePanel('tn', {
  city: tnCity, rural: tnRural, cityMean: tnCityMean, ruralMean: tnRuralMean,
  left: 49, top: 26, right: 541, bottom: 317, xMax: 2020.5,
  yMin: 0, yMax: 9, yStep: 1,
  captions: { title: 'Minimum temperature', titleY: 17, xLabelY: 341, yLabel: 'Temperature (°C)',
              yLabelX: 25, letter: '(d)', letterDx: 12, letterDy: 26 }
});

makePanel('tx', {
  city: txCity, rural: txRural, cityMean: txCityMean, ruralMean: txRuralMean,
  left: 48, top: 21, right: 541, bottom: 313, xMax: 2020.5,
  yMin: 8, yMax: 18, yStep: 2,
  captions: { title: 'Maximum temperature', titleY: 13, xLabelY: 335, yLabel: 'Temperature (°C)',
              yLabelX: 20, letter: '(e)', letterDx: 13, letterDy: 22 }
});

// legend box: a short coloured bar then the label
const legendEntries = models.map((name, i) => ({ name, color: modelColors[i], width: 1.6 }))
  .concat([{ name: 'ensemble mean Berlin', color: '#000', width: 3 },
           { name: 'ensemble mean surroundings', color: '#008000', width: 3 }]);
const legend = document.getElementById('legend');
legendEntries.forEach((e, i) => {
  const row = document.createElement('div');
  row.className = 'row';
  row.style.top = (14 + i * 18.25 - 9) + 'px';
  const swatch = document.createElement('i');
  swatch.style.height = e.width + 'px';
  swatch.style.background = e.color;
  row.appendChild(swatch);
  row.appendChild(document.createTextNode(e.name));
  legend.appendChild(row);
});
</script>
</body>
</html>
